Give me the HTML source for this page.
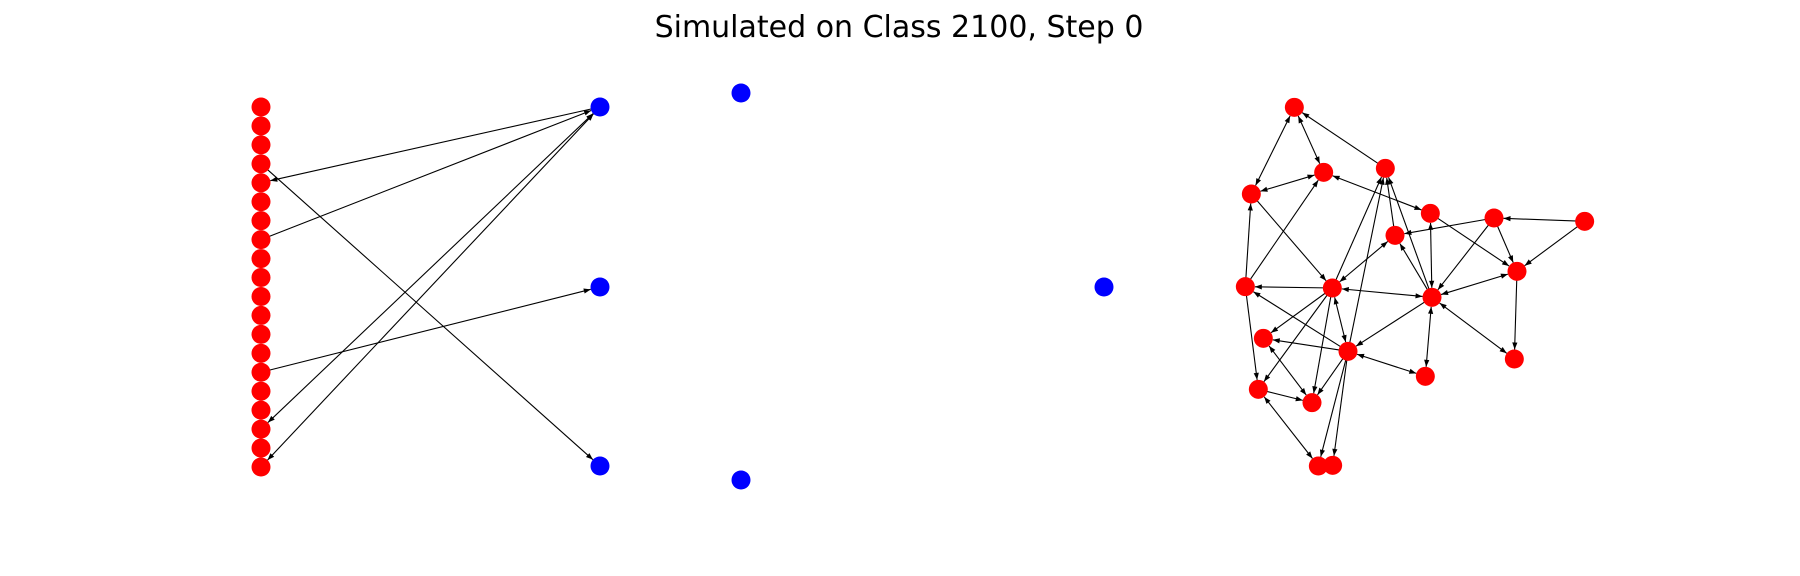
<!DOCTYPE html>
<html><head><meta charset="utf-8"><style>
html,body{margin:0;padding:0;background:#fff;}
svg{display:block;}
</style></head><body>
<svg id="chart" width="1800" height="576" viewBox="0 0 1800 576" xmlns="http://www.w3.org/2000/svg">
<text x="899" y="37" text-anchor="middle" font-family="DejaVu Sans, Liberation Sans, sans-serif" font-size="30" fill="#000">Simulated on Class 2100, Step 0</text>
<g id="edges"></g>
<g id="nodes"></g>
</svg>
<script>
const redColumnCount = 20;
const redColumnX = 261, redColumnTop = 107, redColumnBottom = 467;
const blueNodes = [[600,107],[600,287],[600,466],[741,93],[741,480],[1104,287]];
const clusterNames = ['A','B','C','D','E','F','G','H','I','J','K','L','M','N','O','P','Q','R','S','T'];
const clusterZX = [283,371,556,154,691,882,1154,585,951,136,397,696,190,444,676,943,175,336,355,398];
const clusterZY = [82,277,265,342,400,414,424,466,574,620,624,652,775,814,889,837,928,968,1158,1156];
const leftEdges = [['b0','r4',0],['r7','b0',0],['b0','r17',1],['b0','r19',1],['r14','b1',0],['r3','b2',0]];
const clusterEdges = [
['A','D',1],['A','B',1],['C','A',0],['D','B',1],['B','E',1],['D','K',0],['J','D',0],['J','B',0],
['K','J',0],['K','H',1],['K','L',1],['K','C',0],['N','C',0],['H','C',0],['L','C',0],['L','H',0],
['E','L',1],['F','H',0],['F','L',0],['F','I',0],['G','F',0],['G','I',0],['E','I',0],['L','I',1],
['I','P',0],['L','P',1],['L','N',0],['L','O',1],['N','O',1],['N','M',0],['N','J',0],['K','N',1],
['K','M',0],['K','Q',0],['K','R',0],['J','Q',0],['M','R',1],['Q','R',0],['Q','S',1],['N','R',0],
['N','S',0],['N','T',0]];

const NS='http://www.w3.org/2000/svg';
const R=9.5;
const pos={};
for(let i=0;i<redColumnCount;i++){
  pos['r'+i]=[redColumnX, redColumnTop+(redColumnBottom-redColumnTop)*i/(redColumnCount-1), 'red'];
}
blueNodes.forEach((p,i)=>{pos['b'+i]=[p[0],p[1],'blue'];});
clusterNames.forEach((n,i)=>{pos[n]=[clusterZX[i]/3+1200, clusterZY[i]/3+80,'red'];});

const eg=document.getElementById('edges'), ng=document.getElementById('nodes');
function arrowHead(x,y,ux,uy){
  const L=7,W=2.6;
  const bx=x-ux*L, by=y-uy*L;
  const p=document.createElementNS(NS,'polygon');
  p.setAttribute('points',`${x},${y} ${bx-uy*W},${by+ux*W} ${bx+uy*W},${by-ux*W}`);
  p.setAttribute('fill','#000');
  
  
  eg.appendChild(p);
}
function drawEdge(a,b,bi){
  const [x1,y1]=pos[a],[x2,y2]=pos[b];
  const dx=x2-x1,dy=y2-y1,d=Math.hypot(dx,dy),ux=dx/d,uy=dy/d;
  const sx=x1+ux*(bi?R:0), sy=y1+uy*(bi?R:0), ex=x2-ux*R, ey=y2-uy*R;
  const l=document.createElementNS(NS,'line');
  l.setAttribute('x1',sx);l.setAttribute('y1',sy);l.setAttribute('x2',ex);l.setAttribute('y2',ey);
  l.setAttribute('stroke','#000');l.setAttribute('stroke-width','1.1');
  
  
  eg.appendChild(l);
  arrowHead(ex,ey,ux,uy);
  if(bi) arrowHead(sx,sy,-ux,-uy);
}
leftEdges.forEach(e=>drawEdge(e[0],e[1],e[2]));
clusterEdges.forEach(e=>drawEdge(e[0],e[1],e[2]));
Object.keys(pos).forEach(k=>{
  const [x,y,c]=pos[k];
  const ci=document.createElementNS(NS,'circle');
  ci.setAttribute('cx',x);ci.setAttribute('cy',y);ci.setAttribute('r',R);
  ci.setAttribute('fill',c==='red'?'#ff0000':'#0000ff');
  
  
  ng.appendChild(ci);
});
</script>
</body></html>
